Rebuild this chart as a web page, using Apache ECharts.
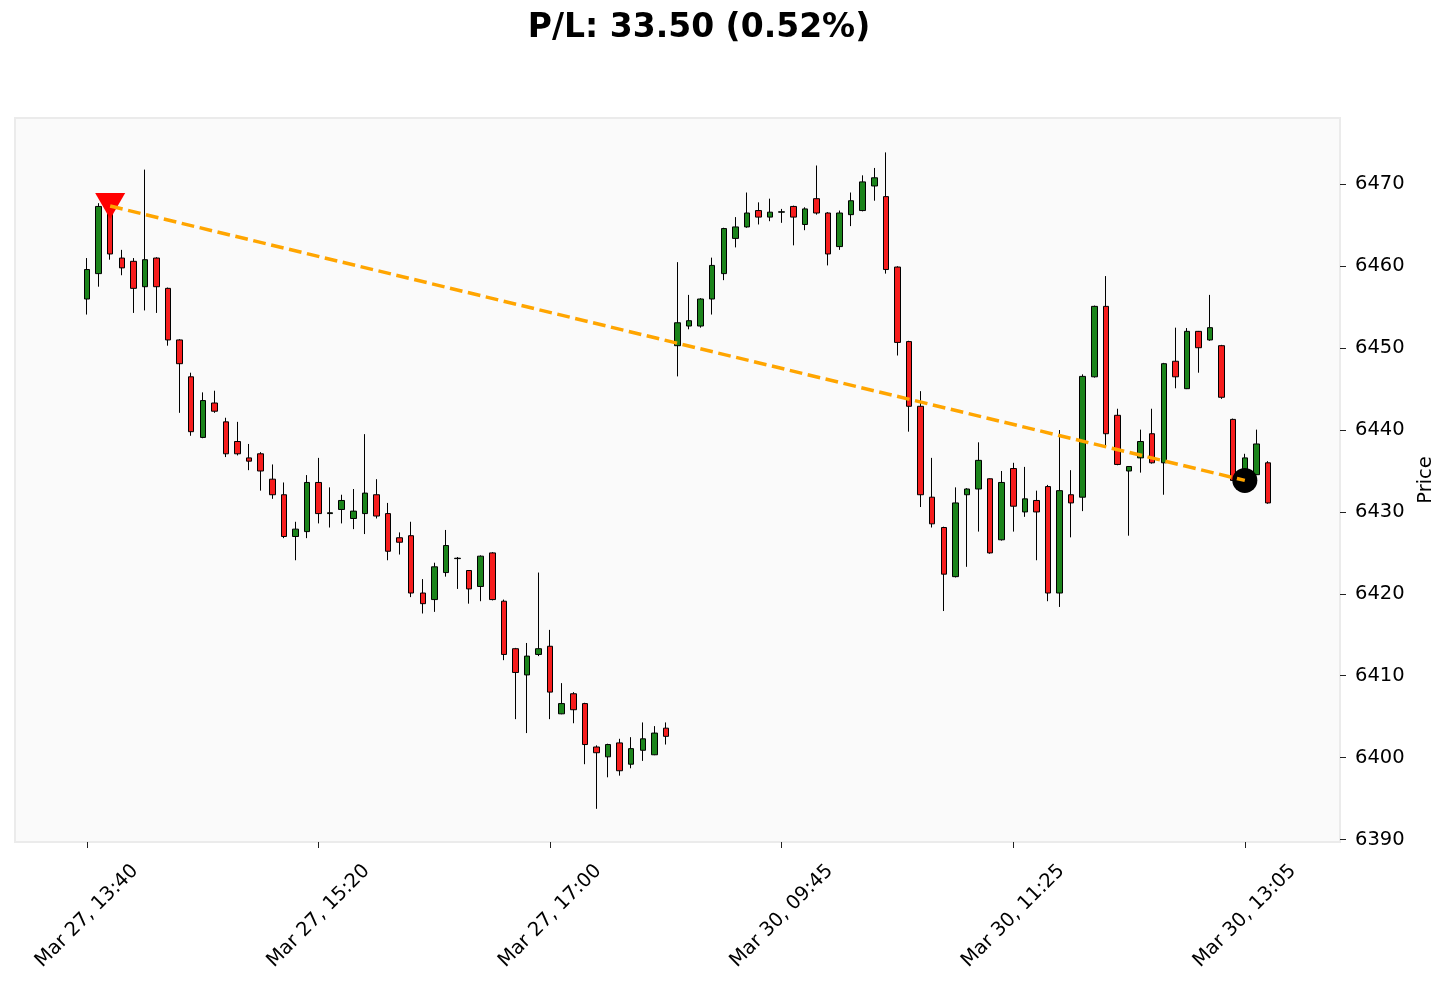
<!DOCTYPE html>
<html>
<head>
<meta charset="utf-8">
<script src="https://cdn.jsdelivr.net/npm/echarts@6/dist/echarts.min.js"></script>
<style>
html,body{margin:0;padding:0;background:#ffffff;}
#chart{width:1450px;height:989px;}
</style>
</head>
<body>
<div id="chart"></div>
<script>
// Trading sessions: [day label, first bar time, number of 5-minute bars]
const sessions = [['Mar 27', '13:40', 51], ['Mar 30', '09:00', 52]];

const opens = [
  6456.0, 6459.1, 6467.3, 6461.0, 6460.6, 6457.5, 6461.0, 6457.3, 6451.0, 6446.5,
  6439.1, 6443.3, 6441.0, 6438.6, 6436.6, 6437.1, 6434.0, 6432.1, 6427.0, 6427.6,
  6433.6, 6429.8, 6430.3, 6429.2, 6429.8, 6432.1, 6429.8, 6426.85, 6427.1, 6420.1,
  6419.3, 6422.6, 6424.3, 6422.85, 6420.9, 6425.0, 6419.1, 6413.3, 6410.1, 6412.6,
  6413.6, 6405.35, 6407.8, 6406.6, 6401.3, 6400.1, 6401.8, 6399.2, 6400.9, 6400.35,
  6403.6,
  6450.3, 6452.7, 6452.7, 6456.0, 6459.1, 6463.4, 6464.8, 6466.8, 6466.0, 6466.6,
  6467.3, 6465.1, 6468.25, 6466.5, 6462.4, 6466.3, 6466.8, 6469.8, 6468.5, 6459.9,
  6450.8, 6442.9, 6431.8, 6428.1, 6422.1, 6432.1, 6432.8, 6434.05, 6426.6, 6435.3,
  6430.0, 6431.4, 6433.1, 6420.1, 6432.1, 6431.8, 6446.5, 6455.1, 6441.8, 6435.0,
  6436.6, 6439.55, 6436.0, 6448.4, 6445.05, 6452.05, 6451.0, 6450.3, 6441.3, 6433.85,
  6434.55, 6436.0
];
const closes = [
  6459.6, 6467.3, 6461.5, 6459.8, 6457.3, 6460.8, 6457.5, 6451.0, 6448.1, 6439.8,
  6443.6, 6442.3, 6437.1, 6437.1, 6436.2, 6435.0, 6432.1, 6427.0, 6427.9, 6433.6,
  6429.8, 6429.9, 6431.4, 6430.1, 6432.3, 6429.5, 6425.2, 6426.3, 6420.1, 6418.8,
  6423.3, 6425.9, 6424.35, 6420.6, 6424.6, 6419.3, 6412.6, 6410.4, 6412.4, 6413.3,
  6408.0, 6406.6, 6405.85, 6401.6, 6400.6, 6401.6, 6398.4, 6401.1, 6402.3, 6403.0,
  6402.6,
  6453.1, 6453.35, 6456.0, 6460.1, 6464.6, 6464.8, 6466.5, 6466.0, 6466.6, 6466.65,
  6466.0, 6467.0, 6466.5, 6461.5, 6466.5, 6468.0, 6470.3, 6470.8, 6459.6, 6450.7,
  6442.9, 6432.1, 6428.55, 6422.4, 6431.1, 6432.8, 6436.3, 6425.0, 6433.6, 6430.7,
  6431.6, 6430.0, 6420.1, 6432.6, 6431.1, 6446.55, 6455.1, 6439.55, 6435.8, 6435.55,
  6438.6, 6436.0, 6448.1, 6446.5, 6452.05, 6450.05, 6452.5, 6444.0, 6433.85, 6436.6,
  6438.3, 6431.1
];
const lows = [
  6454.1, 6457.5, 6460.8, 6458.9, 6454.3, 6454.6, 6454.3, 6450.3, 6442.1, 6439.3,
  6439.0, 6442.1, 6436.7, 6436.9, 6435.1, 6432.6, 6431.6, 6426.8, 6424.1, 6426.8,
  6428.6, 6428.1, 6428.6, 6427.9, 6427.3, 6429.2, 6424.1, 6424.8, 6419.6, 6417.6,
  6417.8, 6422.1, 6420.6, 6418.8, 6419.1, 6419.2, 6411.9, 6404.7, 6403.0, 6412.4,
  6404.7, 6405.3, 6404.2, 6399.2, 6393.75, 6397.6, 6397.8, 6398.7, 6399.6, 6400.3,
  6401.6,
  6446.55, 6452.3, 6452.5, 6454.1, 6458.3, 6462.3, 6464.7, 6465.1, 6465.5, 6465.3,
  6462.55, 6464.4, 6466.3, 6460.1, 6462.0, 6464.9, 6466.7, 6468.0, 6459.1, 6449.1,
  6439.8, 6430.6, 6428.1, 6417.9, 6422.0, 6423.3, 6427.6, 6424.9, 6426.5, 6427.6,
  6429.4, 6424.1, 6419.1, 6418.4, 6426.9, 6430.1, 6446.4, 6438.1, 6435.7, 6427.1,
  6434.8, 6435.9, 6432.1, 6445.1, 6445.0, 6447.0, 6450.9, 6443.8, 6433.8, 6433.5,
  6434.5, 6431.0
];
const highs = [
  6461.0, 6467.7, 6468.0, 6462.0, 6461.0, 6471.8, 6461.1, 6457.4, 6451.1, 6447.0,
  6444.6, 6444.8, 6441.5, 6441.0, 6438.3, 6437.3, 6435.8, 6433.6, 6428.8, 6434.5,
  6436.6, 6433.0, 6432.1, 6432.8, 6439.5, 6434.0, 6431.1, 6427.5, 6428.8, 6421.8,
  6423.8, 6427.8, 6424.5, 6422.9, 6424.7, 6425.1, 6419.3, 6413.4, 6414.0, 6422.6,
  6415.6, 6409.1, 6408.0, 6406.7, 6401.5, 6401.7, 6402.3, 6402.5, 6404.3, 6403.85,
  6404.3,
  6460.5, 6456.5, 6456.1, 6461.05, 6464.7, 6466.0, 6469.0, 6467.8, 6468.25, 6467.0,
  6467.4, 6467.2, 6472.3, 6466.6, 6466.8, 6469.0, 6471.1, 6472.0, 6473.9, 6460.0,
  6450.9, 6444.75, 6436.6, 6428.2, 6433.0, 6432.9, 6438.5, 6434.1, 6435.0, 6436.0,
  6435.5, 6432.6, 6433.3, 6440.0, 6435.1, 6446.8, 6455.2, 6458.8, 6442.6, 6435.6,
  6440.05, 6442.6, 6448.2, 6452.5, 6452.45, 6452.1, 6456.5, 6450.4, 6441.4, 6437.1,
  6440.05, 6436.2
];

const xTickIndices = [0, 20, 40, 60, 80, 100];
const yTicks = [6390, 6400, 6410, 6420, 6430, 6440, 6450, 6460, 6470];
const entryIndex = 2, entryPrice = 6467.35;
const exitIndex = 100, exitPrice = 6433.85;
const titleText = 'P/L: 33.50 (0.52%)';

function buildTimes() {
  const out = [];
  sessions.forEach(function (s) {
    const parts = s[1].split(':');
    let m = parseInt(parts[0], 10) * 60 + parseInt(parts[1], 10);
    for (let k = 0; k < s[2]; k++) {
      const hh = String(Math.floor(m / 60)).padStart(2, '0');
      const mm = String(m % 60).padStart(2, '0');
      out.push(s[0] + ', ' + hh + ':' + mm);
      m += 5;
    }
  });
  return out;
}
const times = buildTimes();
const candleData = opens.map(function (o, i) { return [i, o, closes[i], lows[i], highs[i]]; });

const FONT = 'DejaVu Sans';
const chart = echarts.init(document.getElementById('chart'), null, { renderer: 'canvas' });
chart.setOption({
  animation: false,
  backgroundColor: '#ffffff',
  title: {
    text: titleText,
    left: 694, top: 7,
    textAlign: 'center',
    textStyle: { fontFamily: FONT, fontSize: 33, fontWeight: 'bold', color: '#000000' }
  },
  grid: {
    left: 15, right: 110, top: 118, bottom: 147,
    show: true, backgroundColor: '#fafafa', borderColor: '#ebebeb', borderWidth: 2
  },
  xAxis: {
    type: 'value',
    min: -6.22, max: 108.22,
    axisLine: { show: false, onZero: false },
    splitLine: { show: false },
    axisTick: { show: true, customValues: xTickIndices, length: 6, lineStyle: { color: '#222', width: 1 } },
    axisLabel: {
      customValues: xTickIndices,
      formatter: function (v) { return times[Math.round(v)] || ''; },
      rotate: 45, align: 'center', verticalAlign: 'middle', margin: 74,
      fontFamily: FONT, fontSize: 19.5, color: '#000000'
    }
  },
  yAxis: {
    type: 'value',
    position: 'right',
    min: 6389.7, max: 6478.1,
    axisLine: { show: false, onZero: false },
    splitLine: { show: false },
    axisTick: { show: true, customValues: yTicks, length: 6, lineStyle: { color: '#222', width: 1 } },
    axisLabel: {
      customValues: yTicks, margin: 15,
      formatter: function (v) { return String(v); },
      fontFamily: FONT, fontSize: 19.5, color: '#000000'
    },
    name: 'Price', nameLocation: 'middle', nameGap: 76,
    nameTextStyle: { fontFamily: FONT, fontSize: 19.5, color: '#000000' }
  },
  series: [
    {
      type: 'candlestick',
      data: candleData,
      barWidth: 6,
      z: 2,
      itemStyle: {
        color: '#1b841b', color0: '#f61d1d',
        borderColor: '#000000', borderColor0: '#000000', borderColorDoji: '#000000',
        borderWidth: 1
      }
    },
    {
      type: 'scatter',
      data: [[entryIndex, entryPrice]],
      symbol: 'triangle', symbolRotate: 180, symbolSize: [30, 26],
      itemStyle: { color: '#ff0000', opacity: 1 },
      z: 3
    },
    {
      type: 'scatter',
      data: [[exitIndex, exitPrice]],
      symbol: 'circle', symbolSize: 25,
      itemStyle: { color: '#000000', opacity: 1 },
      z: 3
    },
    {
      type: 'line',
      data: [[entryIndex, entryPrice], [exitIndex, exitPrice]],
      symbol: 'none',
      lineStyle: { color: '#ffa500', width: 3.5, type: [12.8, 5.6] },
      z: 4
    }
  ]
});
</script>
</body>
</html>
